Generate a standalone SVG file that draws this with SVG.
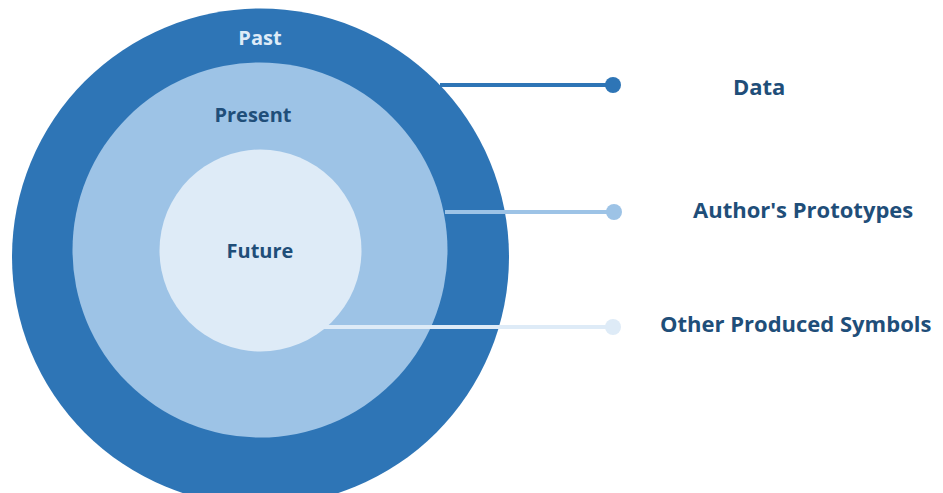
<svg xmlns="http://www.w3.org/2000/svg" width="943" height="493" viewBox="0 0 943 493">
<style>
.lbl{font-family:"Open Sans",Lato,"Liberation Sans",sans-serif;font-weight:bold;font-size:20px;fill:#1F4E79}
.in{text-anchor:middle}
.side{font-size:22px}
</style>
<rect width="943" height="493" fill="#FFFFFF"/>
<g id="past"><circle cx="260.5" cy="257" r="248.5" fill="#2E75B6"/><text class="lbl in" x="260" y="45" style="fill:#DEEBF7">Past</text></g>
<g id="present"><circle cx="260" cy="250" r="187.5" fill="#9DC3E6"/><text class="lbl in" x="253" y="122">Present</text></g>
<g id="future"><circle cx="260.5" cy="250.5" r="101" fill="#DEEBF7"/><text class="lbl in" x="260" y="258">Future</text></g>
<g id="connectors">
<line x1="440" y1="85" x2="613" y2="85" stroke="#2E75B6" stroke-width="4"/><circle cx="613" cy="85" r="8" fill="#2E75B6"/>
<line x1="445" y1="212" x2="614" y2="212" stroke="#9DC3E6" stroke-width="4"/><circle cx="614" cy="212" r="8" fill="#9DC3E6"/>
<line x1="324" y1="327" x2="613" y2="327" stroke="#DEEBF7" stroke-width="4"/><circle cx="613" cy="327" r="8" fill="#DEEBF7"/>
</g>
<g id="data"><text class="lbl side" x="733" y="95">Data</text></g>
<g id="authors"><text class="lbl side" x="693" y="218">Author's Prototypes</text></g>
<g id="other"><text class="lbl side" x="660" y="332">Other Produced Symbols</text></g>
</svg>
